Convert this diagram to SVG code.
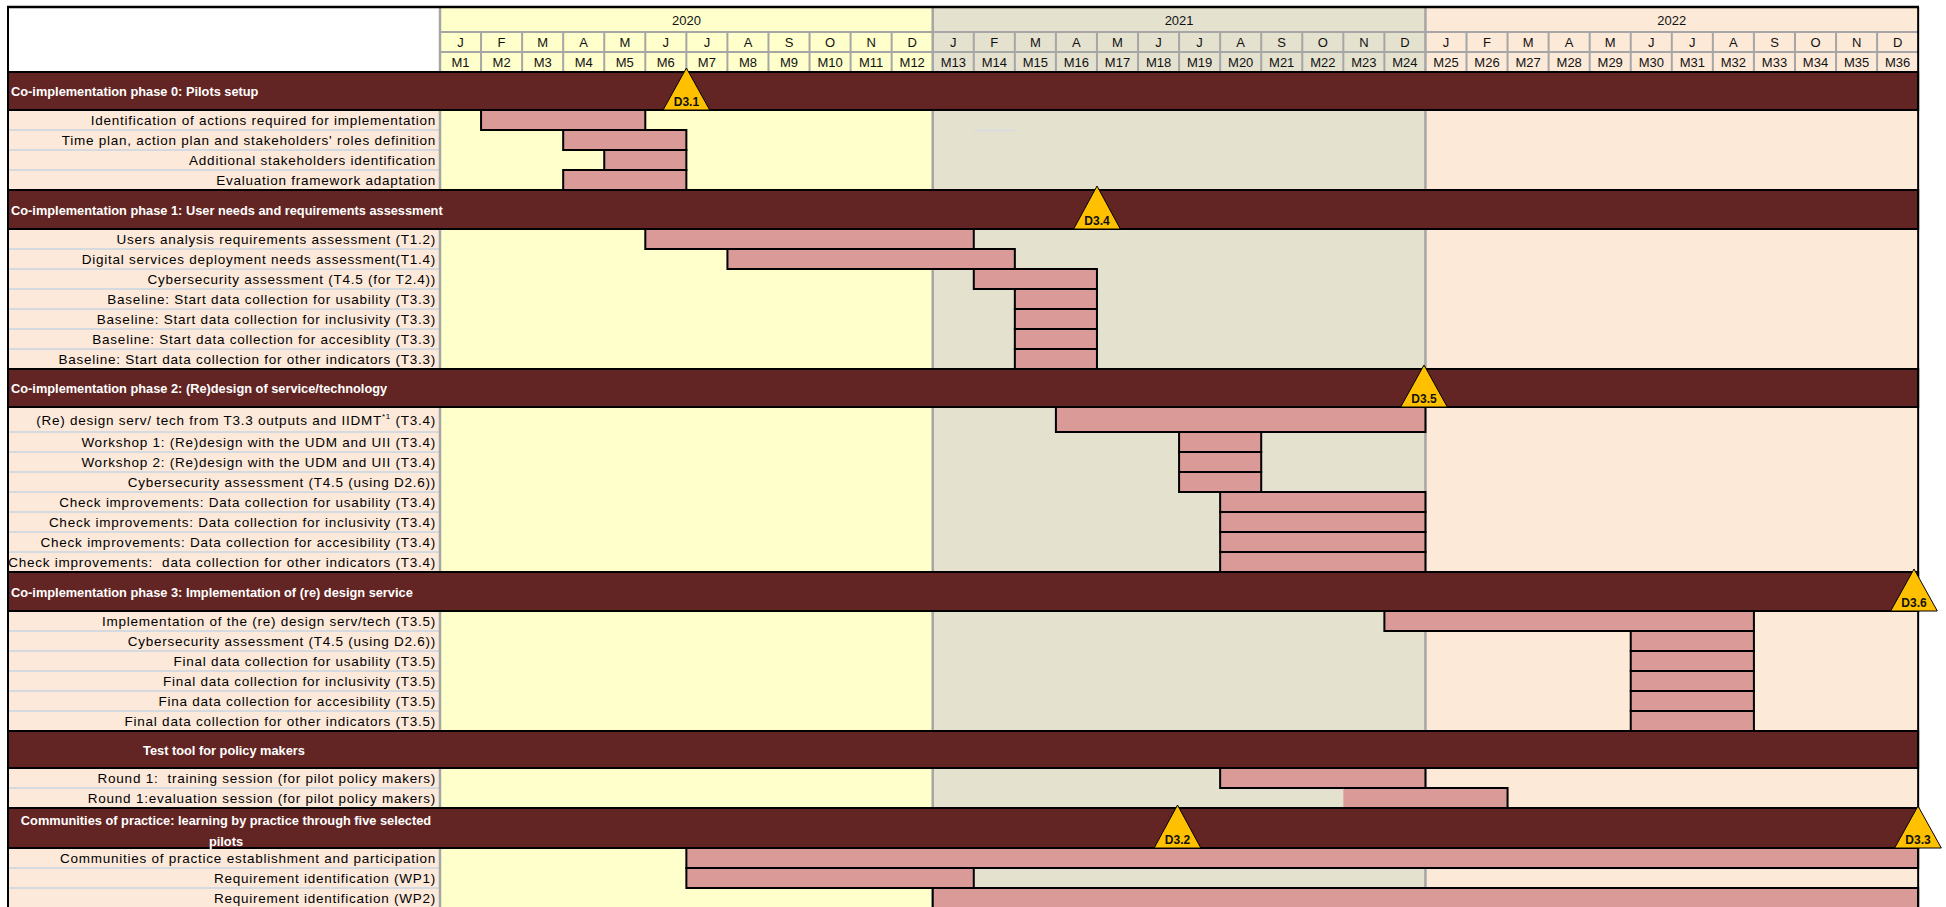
<svg xmlns="http://www.w3.org/2000/svg" width="1946" height="907" viewBox="0 0 1946 907">
<style>
.lbl{font-family:"Liberation Sans",Arial,sans-serif;font-size:13.5px;letter-spacing:0.75px;text-anchor:end;fill:#000}
.ph{font-family:"Liberation Sans",Arial,sans-serif;font-weight:bold;font-size:12.8px;fill:#fff}
.phc{text-anchor:middle}
.hd{font-family:"Liberation Sans",Arial,sans-serif;font-size:13px;text-anchor:middle;fill:#111}
.bar{fill:#DA9A97;stroke:#000;stroke-width:2}
.phbar{fill:#632523;stroke:#000;stroke-width:2}
.ms{fill:#FFC000;stroke:#000;stroke-width:1}
.mst{font-family:"Liberation Sans",Arial,sans-serif;font-weight:bold;font-size:12px;text-anchor:middle;fill:#111}
.sep{stroke:#D5D9E0;stroke-width:2;fill:none}
.grid{stroke:#A6A6A6;stroke-width:2;fill:none}
.ydiv{stroke:#A6A6A6;stroke-width:2.5;fill:none}
</style>

<g id="background">
<rect x="8" y="7" width="432" height="900" fill="#FCE9DA"/>
<rect x="8" y="7" width="432" height="65" fill="#FFFFFF"/>
<rect x="440" y="7" width="492.72" height="900" fill="#FFFFCC"/>
<rect x="932.72" y="7" width="492.72" height="900" fill="#E4E1CF"/>
<rect x="1425.44" y="7" width="492.72" height="900" fill="#FCE9D8"/>
<path class="sep" d="M8 130H440M8 150H440M8 170H440M8 249H440M8 269H440M8 289H440M8 309H440M8 329H440M8 349H440M8 432H440M8 452H440M8 472H440M8 492H440M8 512H440M8 532H440M8 552H440M8 631H440M8 651H440M8 671H440M8 691H440M8 711H440M8 788H440M8 868H440M8 888H440"/>
<path d="M974 130.5H1016" stroke="#D6DCE4" stroke-width="1.5"/>
<path class="ydiv" d="M440 7V907M932.72 7V907M1425.44 7V907"/>
</g>

<g id="timeline-header">
<path class="grid" d="M440 32H1918M440 52H1918M440 72H1918"/>
<path class="grid" d="M481.06 32V72M522.12 32V72M563.18 32V72M604.24 32V72M645.3 32V72M686.36 32V72M727.42 32V72M768.48 32V72M809.54 32V72M850.6 32V72M891.66 32V72M973.78 32V72M1014.84 32V72M1055.9 32V72M1096.96 32V72M1138.02 32V72M1179.08 32V72M1220.14 32V72M1261.2 32V72M1302.26 32V72M1343.32 32V72M1384.38 32V72M1466.5 32V72M1507.56 32V72M1548.62 32V72M1589.68 32V72M1630.74 32V72M1671.8 32V72M1712.86 32V72M1753.92 32V72M1794.98 32V72M1836.04 32V72M1877.1 32V72"/>
<text class="hd" x="686.4" y="24.5">2020</text>
<text class="hd" x="1179.1" y="24.5">2021</text>
<text class="hd" x="1671.8" y="24.5">2022</text>
<g id="month-letters">
<text class="hd" x="460.5" y="46.8">J</text><text class="hd" x="501.6" y="46.8">F</text><text class="hd" x="542.7" y="46.8">M</text><text class="hd" x="583.7" y="46.8">A</text><text class="hd" x="624.8" y="46.8">M</text><text class="hd" x="665.8" y="46.8">J</text><text class="hd" x="706.9" y="46.8">J</text><text class="hd" x="748" y="46.8">A</text><text class="hd" x="789" y="46.8">S</text><text class="hd" x="830.1" y="46.8">O</text><text class="hd" x="871.1" y="46.8">N</text><text class="hd" x="912.2" y="46.8">D</text>
<text class="hd" x="953.3" y="46.8">J</text><text class="hd" x="994.3" y="46.8">F</text><text class="hd" x="1035.4" y="46.8">M</text><text class="hd" x="1076.4" y="46.8">A</text><text class="hd" x="1117.5" y="46.8">M</text><text class="hd" x="1158.6" y="46.8">J</text><text class="hd" x="1199.6" y="46.8">J</text><text class="hd" x="1240.7" y="46.8">A</text><text class="hd" x="1281.7" y="46.8">S</text><text class="hd" x="1322.8" y="46.8">O</text><text class="hd" x="1363.9" y="46.8">N</text><text class="hd" x="1404.9" y="46.8">D</text>
<text class="hd" x="1446" y="46.8">J</text><text class="hd" x="1487" y="46.8">F</text><text class="hd" x="1528.1" y="46.8">M</text><text class="hd" x="1569.2" y="46.8">A</text><text class="hd" x="1610.2" y="46.8">M</text><text class="hd" x="1651.3" y="46.8">J</text><text class="hd" x="1692.3" y="46.8">J</text><text class="hd" x="1733.4" y="46.8">A</text><text class="hd" x="1774.5" y="46.8">S</text><text class="hd" x="1815.5" y="46.8">O</text><text class="hd" x="1856.6" y="46.8">N</text><text class="hd" x="1897.6" y="46.8">D</text>
</g>
<g id="month-numbers">
<text class="hd" x="460.5" y="66.8">M1</text><text class="hd" x="501.6" y="66.8">M2</text><text class="hd" x="542.7" y="66.8">M3</text><text class="hd" x="583.7" y="66.8">M4</text><text class="hd" x="624.8" y="66.8">M5</text><text class="hd" x="665.8" y="66.8">M6</text><text class="hd" x="706.9" y="66.8">M7</text><text class="hd" x="748" y="66.8">M8</text><text class="hd" x="789" y="66.8">M9</text><text class="hd" x="830.1" y="66.8">M10</text><text class="hd" x="871.1" y="66.8">M11</text><text class="hd" x="912.2" y="66.8">M12</text>
<text class="hd" x="953.3" y="66.8">M13</text><text class="hd" x="994.3" y="66.8">M14</text><text class="hd" x="1035.4" y="66.8">M15</text><text class="hd" x="1076.4" y="66.8">M16</text><text class="hd" x="1117.5" y="66.8">M17</text><text class="hd" x="1158.6" y="66.8">M18</text><text class="hd" x="1199.6" y="66.8">M19</text><text class="hd" x="1240.7" y="66.8">M20</text><text class="hd" x="1281.7" y="66.8">M21</text><text class="hd" x="1322.8" y="66.8">M22</text><text class="hd" x="1363.9" y="66.8">M23</text><text class="hd" x="1404.9" y="66.8">M24</text>
<text class="hd" x="1446" y="66.8">M25</text><text class="hd" x="1487" y="66.8">M26</text><text class="hd" x="1528.1" y="66.8">M27</text><text class="hd" x="1569.2" y="66.8">M28</text><text class="hd" x="1610.2" y="66.8">M29</text><text class="hd" x="1651.3" y="66.8">M30</text><text class="hd" x="1692.3" y="66.8">M31</text><text class="hd" x="1733.4" y="66.8">M32</text><text class="hd" x="1774.5" y="66.8">M33</text><text class="hd" x="1815.5" y="66.8">M34</text><text class="hd" x="1856.6" y="66.8">M35</text><text class="hd" x="1897.6" y="66.8">M36</text>
</g>
</g>

<g id="phase0">
<rect class="phbar" x="8" y="72" width="1910.16" height="38"/>
<text class="ph" x="11" y="96">Co-implementation phase 0: Pilots setup</text>
<g id="t0-1"><rect class="bar" x="481.06" y="110" width="164.24" height="20"/><text class="lbl" x="436" y="124.8">Identification of actions required for implementation</text></g>
<g id="t0-2"><rect class="bar" x="563.18" y="130" width="123.18" height="20"/><text class="lbl" x="436" y="144.8">Time plan, action plan and stakeholders' roles definition</text></g>
<g id="t0-3"><rect class="bar" x="604.24" y="150" width="82.12" height="20"/><text class="lbl" x="436" y="164.8">Additional stakeholders identification</text></g>
<g id="t0-4"><rect class="bar" x="563.18" y="170" width="123.18" height="20"/><text class="lbl" x="436" y="184.8">Evaluation framework adaptation</text></g>
</g>

<g id="phase1">
<rect class="phbar" x="8" y="190" width="1910.16" height="39"/>
<text class="ph" x="11" y="214.5">Co-implementation phase 1: User needs and requirements assessment</text>
<g id="t1-1"><rect class="bar" x="645.3" y="229" width="328.48" height="20"/><text class="lbl" x="436" y="243.8">Users analysis requirements assessment (T1.2)</text></g>
<g id="t1-2"><rect class="bar" x="727.42" y="249" width="287.42" height="20"/><text class="lbl" x="436" y="263.8">Digital services deployment needs assessment(T1.4)</text></g>
<g id="t1-3"><rect class="bar" x="973.78" y="269" width="123.18" height="20"/><text class="lbl" x="436" y="283.8">Cybersecurity assessment (T4.5 (for T2.4))</text></g>
<g id="t1-4"><rect class="bar" x="1014.84" y="289" width="82.12" height="20"/><text class="lbl" x="436" y="303.8">Baseline: Start data collection for usability (T3.3)</text></g>
<g id="t1-5"><rect class="bar" x="1014.84" y="309" width="82.12" height="20"/><text class="lbl" x="436" y="323.8">Baseline: Start data collection for inclusivity (T3.3)</text></g>
<g id="t1-6"><rect class="bar" x="1014.84" y="329" width="82.12" height="20"/><text class="lbl" x="436" y="343.8">Baseline: Start data collection for accesiblity (T3.3)</text></g>
<g id="t1-7"><rect class="bar" x="1014.84" y="349" width="82.12" height="20"/><text class="lbl" x="436" y="363.8">Baseline: Start data collection for other indicators (T3.3)</text></g>
</g>

<g id="phase2">
<rect class="phbar" x="8" y="369" width="1910.16" height="38"/>
<text class="ph" x="11" y="393">Co-implementation phase 2: (Re)design of service/technology</text>
<g id="t2-1"><rect class="bar" x="1055.9" y="407" width="369.54" height="25"/><text class="lbl" x="436" y="424.5">(Re) design serv/ tech from T3.3 outputs and IIDMT<tspan font-size="8" dy="-6">*1</tspan><tspan dy="6"> (T3.4)</tspan></text></g>
<g id="t2-2"><rect class="bar" x="1179.08" y="432" width="82.12" height="20"/><text class="lbl" x="436" y="446.8">Workshop 1: (Re)design with the UDM and UII (T3.4)</text></g>
<g id="t2-3"><rect class="bar" x="1179.08" y="452" width="82.12" height="20"/><text class="lbl" x="436" y="466.8">Workshop 2: (Re)design with the UDM and UII (T3.4)</text></g>
<g id="t2-4"><rect class="bar" x="1179.08" y="472" width="82.12" height="20"/><text class="lbl" x="436" y="486.8">Cybersecurity assessment (T4.5 (using D2.6))</text></g>
<g id="t2-5"><rect class="bar" x="1220.14" y="492" width="205.3" height="20"/><text class="lbl" x="436" y="506.8">Check improvements: Data collection for usability (T3.4)</text></g>
<g id="t2-6"><rect class="bar" x="1220.14" y="512" width="205.3" height="20"/><text class="lbl" x="436" y="526.8">Check improvements: Data collection for inclusivity (T3.4)</text></g>
<g id="t2-7"><rect class="bar" x="1220.14" y="532" width="205.3" height="20"/><text class="lbl" x="436" y="546.8">Check improvements: Data collection for accesibility (T3.4)</text></g>
<g id="t2-8"><rect class="bar" x="1220.14" y="552" width="205.3" height="20"/><text class="lbl" x="436" y="566.8" xml:space="preserve">Check improvements:  data collection for other indicators (T3.4)</text></g>
</g>

<g id="phase3">
<rect class="phbar" x="8" y="572" width="1910.16" height="39"/>
<text class="ph" x="11" y="596.5">Co-implementation phase 3: Implementation of (re) design service</text>
<g id="t3-1"><rect class="bar" x="1384.38" y="611" width="369.54" height="20"/><text class="lbl" x="436" y="625.8">Implementation of the (re) design serv/tech (T3.5)</text></g>
<g id="t3-2"><rect class="bar" x="1630.74" y="631" width="123.18" height="20"/><text class="lbl" x="436" y="645.8">Cybersecurity assessment (T4.5 (using D2.6))</text></g>
<g id="t3-3"><rect class="bar" x="1630.74" y="651" width="123.18" height="20"/><text class="lbl" x="436" y="665.8">Final data collection for usability (T3.5)</text></g>
<g id="t3-4"><rect class="bar" x="1630.74" y="671" width="123.18" height="20"/><text class="lbl" x="436" y="685.8">Final data collection for inclusivity (T3.5)</text></g>
<g id="t3-5"><rect class="bar" x="1630.74" y="691" width="123.18" height="20"/><text class="lbl" x="436" y="705.8">Fina data collection for accesibility (T3.5)</text></g>
<g id="t3-6"><rect class="bar" x="1630.74" y="711" width="123.18" height="20"/><text class="lbl" x="436" y="725.8">Final data collection for other indicators (T3.5)</text></g>
</g>

<g id="test-tool">
<rect class="phbar" x="8" y="731" width="1910.16" height="37"/>
<text class="ph phc" x="224" y="754.5">Test tool for policy makers</text>
<g id="tt-1"><rect class="bar" x="1220.14" y="768" width="205.3" height="20"/><text class="lbl" x="436" y="782.8" xml:space="preserve">Round 1:  training session (for pilot policy makers)</text></g>
<g id="tt-2"><rect x="1343.32" y="788" width="164.24" height="20" fill="#DA9A97"/><path d="M1343.32 788H1507.56V808" stroke="#000" stroke-width="2" fill="none"/><text class="lbl" x="436" y="802.8">Round 1:evaluation session (for pilot policy makers)</text></g>
</g>

<g id="communities">
<rect class="phbar" x="8" y="808" width="1910.16" height="40"/>
<text class="ph phc" x="226" y="825">Communities of practice: learning by practice through five selected</text>
<text class="ph phc" x="226" y="845.5">pilots</text>
<g id="cp-1"><rect class="bar" x="686.36" y="848" width="1231.8" height="20"/><text class="lbl" x="436" y="862.8">Communities of practice establishment and participation</text></g>
<g id="cp-2"><rect class="bar" x="686.36" y="868" width="287.42" height="20"/><text class="lbl" x="436" y="882.8">Requirement identification (WP1)</text></g>
<g id="cp-3"><rect class="bar" x="932.72" y="888" width="985.44" height="22"/><text class="lbl" x="436" y="902.8">Requirement identification (WP2)</text></g>
</g>

<g id="borders">
<path d="M7 7H1919" stroke="#000" stroke-width="2.5" fill="none"/>
<path d="M8 7V907M1918.16 7V907" stroke="#000" stroke-width="2" fill="none"/>
</g>

<g id="milestones">
<g id="D3.1"><polygon class="ms" points="686.4,68 663.1,110 709.7,110"/><text class="mst" x="686.4" y="105.5">D3.1</text></g>
<g id="D3.4"><polygon class="ms" points="1097,186 1073.7,229 1120.3,229"/><text class="mst" x="1097" y="224.5">D3.4</text></g>
<g id="D3.5"><polygon class="ms" points="1424,365 1400.7,407 1447.3,407"/><text class="mst" x="1424" y="402.5">D3.5</text></g>
<g id="D3.6"><polygon class="ms" points="1914,569 1890.7,611 1937.3,611"/><text class="mst" x="1914" y="606.5">D3.6</text></g>
<g id="D3.2"><polygon class="ms" points="1177.5,805 1154.2,848 1200.8,848"/><text class="mst" x="1177.5" y="843.5">D3.2</text></g>
<g id="D3.3"><polygon class="ms" points="1918,806 1894.7,848 1941.3,848"/><text class="mst" x="1918" y="843.5">D3.3</text></g>
</g>
</svg>
